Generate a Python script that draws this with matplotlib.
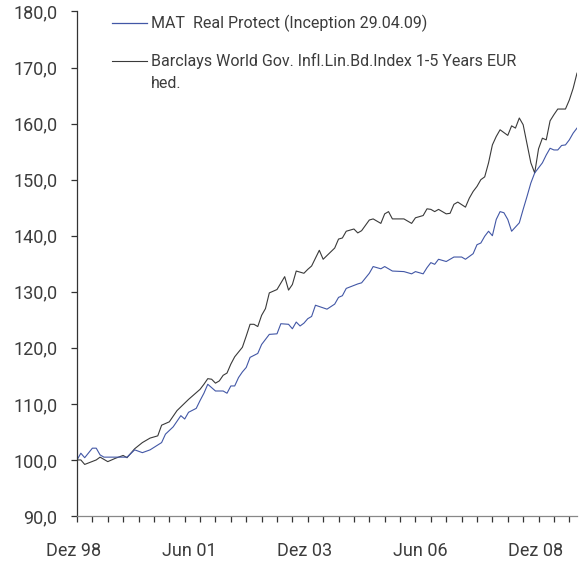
import numpy as np
import matplotlib
matplotlib.use("Agg")
from matplotlib import pyplot as plt
from matplotlib.lines import Line2D
from matplotlib.ticker import FixedLocator, FuncFormatter
from matplotlib.transforms import ScaledTranslation

# month offsets counted from Dez 98
mat_months = [0, 1, 2, 4, 5, 6, 7, 13, 15, 17, 19, 22, 23, 25, 27, 28, 29,
              31, 32, 33, 34, 36, 38, 39, 40, 41, 42, 43, 44, 45,
              47, 48, 50, 52, 53, 55, 56, 57, 58, 59, 60, 61, 62,
              65, 67, 68, 69, 70, 73, 74, 76, 77, 79, 80,
              82, 85, 87, 88, 90, 91, 92, 93, 94, 96, 98, 100, 101,
              103, 104, 105, 106, 107, 108, 109, 110, 111, 112, 113,
              115, 116, 117, 118, 119, 120, 121, 122, 123, 124, 125, 126, 127, 128, 129, 130]
mat_values = [100.0, 101.2, 100.4, 102.1, 102.1, 100.9, 100.5, 100.5, 101.8, 101.3, 101.8, 103.1, 104.6, 105.9, 107.9, 107.3, 108.5,
              109.2, 110.6, 111.9, 113.5, 112.3, 112.3, 111.9, 113.2, 113.2, 114.7, 115.7, 116.5, 118.3,
              119.0, 120.6, 122.4, 122.5, 124.3, 124.2, 123.4, 124.6, 123.9, 124.4, 125.2, 125.6, 127.6,
              126.9, 127.8, 129.0, 129.3, 130.6, 131.4, 131.6, 133.3, 134.5, 134.1, 134.5,
              133.7, 133.6, 133.2, 133.6, 133.2, 134.3, 135.2, 134.9, 135.8, 135.4, 136.2, 136.2, 135.8,
              136.8, 138.4, 138.7, 139.9, 140.8, 140.0, 142.9, 144.3, 144.1, 142.9, 140.8,
              142.3, 144.7, 147.0, 149.4, 151.2, 152.1, 153.0, 154.4, 155.6, 155.3, 155.3, 156.1, 156.2, 157.1, 158.3, 159.2]

bench_months = [0, 1, 2, 5, 6, 8, 10, 12, 13, 15, 17, 19, 21, 22, 24, 25, 26,
                29, 30, 32, 33, 34, 35, 36, 37, 38, 39, 40, 41, 43, 44, 45, 46, 47, 48, 49, 50,
                52, 54, 55, 56, 57, 59, 60, 61, 63, 64, 67, 68, 69, 70, 72, 73, 74,
                76, 77, 79, 80, 81, 82, 85, 86, 87, 88, 90, 91, 92, 93, 94, 96, 97, 98, 99,
                101, 102, 103, 104, 105, 106, 107, 108, 109, 110, 112, 113, 114, 115, 116,
                118, 119, 120, 121, 122, 123, 124, 125, 127, 128, 129, 130]
bench_values = [100.0, 100.0, 99.2, 100.0, 100.5, 99.7, 100.3, 100.8, 100.4, 102.0, 103.1, 103.9, 104.3, 106.2, 106.8, 107.8, 108.8,
                110.8, 111.4, 112.6, 113.5, 114.5, 114.4, 113.7, 114.1, 115.1, 115.5, 117.1, 118.4, 120.1, 122.1, 124.2, 124.2, 123.8, 125.8, 127.0, 129.8,
                130.4, 132.7, 130.3, 131.3, 133.7, 133.3, 134.0, 134.6, 137.4, 135.8, 137.8, 139.4, 139.6, 140.8, 141.2, 140.5, 140.9,
                142.8, 143.0, 142.2, 143.9, 144.3, 143.0, 143.0, 142.6, 142.2, 143.2, 143.6, 144.8, 144.7, 144.3, 144.7, 143.9, 144.0, 145.6, 146.0,
                145.1, 146.7, 147.9, 148.8, 150.0, 150.5, 153.0, 156.2, 157.7, 158.9, 157.9, 159.6, 159.2, 161.0, 159.8,
                153.0, 151.2, 155.5, 157.4, 157.1, 160.5, 161.6, 162.6, 162.6, 164.2, 166.3, 169.0]

series_labels = ["MAT  Real Protect (Inception 29.04.09)",
                 "Barclays World Gov. Infl.Lin.Bd.Index 1-5 Years EUR"]
label_wrap = "hed."
date_labels = ["Dez 98", "Jun 01", "Dez 03", "Jun 06", "Dez 08"]
date_label_months = [0, 30, 60, 90, 120]

text_color = "#3c3c3c"
blue = "#4257a6"
dark = "#3a3a3a"

plt.rcParams["font.family"] = ["Roboto", "DejaVu Sans"]

fig = plt.figure(figsize=(5.81, 5.62), dpi=100)
ax = fig.add_axes([77 / 581, 1 - 516 / 562, 500 / 581, (516 - 11.5) / 562])

ax.plot(bench_months, bench_values, color=dark, lw=0.8)
ax.plot(mat_months, mat_values, color=blue, lw=0.8)

ax.set_xlim(0, 130)
ax.set_ylim(90, 180)

for side in ("top", "right"):
    ax.spines[side].set_visible(False)
ax.spines["left"].set_color("#333333")
ax.spines["bottom"].set_color("#888888")
ax.spines["left"].set_linewidth(0.9)
ax.spines["bottom"].set_linewidth(0.9)

ax.set_yticks(np.arange(90, 181, 10))
ax.yaxis.set_major_formatter(FuncFormatter(lambda v, p: f"{v:.1f}".replace(".", ",")))
ax.tick_params(axis="y", direction="out", length=4, width=0.9, color="#333333",
               labelsize=13, labelcolor=text_color, pad=10)

# tick marks every 4 months, labels every 30 months
ax.xaxis.set_major_locator(FixedLocator(np.arange(0, 131, 4)))
ax.xaxis.set_major_formatter(FuncFormatter(lambda v, p: ""))
ax.xaxis.set_minor_locator(FixedLocator(date_label_months))
ax.xaxis.set_minor_formatter(FuncFormatter(lambda v, p: date_labels[p] if p < len(date_labels) else ""))
ax.xaxis.remove_overlapping_locs = False
ax.tick_params(axis="x", which="major", direction="out", length=4, width=0.9, color="#333333")
ax.tick_params(axis="x", which="minor", length=0, labelsize=13, labelcolor=text_color, pad=19)
# the original labels sit a little left of their month
shift = ScaledTranslation(-3 / 100, 0, fig.dpi_scale_trans)
for lbl in ax.xaxis.get_minorticklabels():
    lbl.set_transform(lbl.get_transform() + shift)

handles = [Line2D([], [], color=blue, lw=0.9), Line2D([], [], color=dark, lw=0.8)]
leg = ax.legend(handles, series_labels, loc="upper left", bbox_to_anchor=(0.048, 1.015),
                frameon=False, fontsize=11.5, handlelength=2.2, handletextpad=0.2,
                labelspacing=1.3, borderpad=0.2)
for t in leg.get_texts():
    t.set_color(text_color)
# second line of the wrapped benchmark label, drawn after the legend has been laid out
ax.annotate(label_wrap, xy=(0, 0), xycoords=leg.get_texts()[1], xytext=(0, -16),
            textcoords="offset points", ha="left", va="bottom", fontsize=11.5,
            color=text_color, zorder=10)

fig.savefig("out.png", dpi=100)
